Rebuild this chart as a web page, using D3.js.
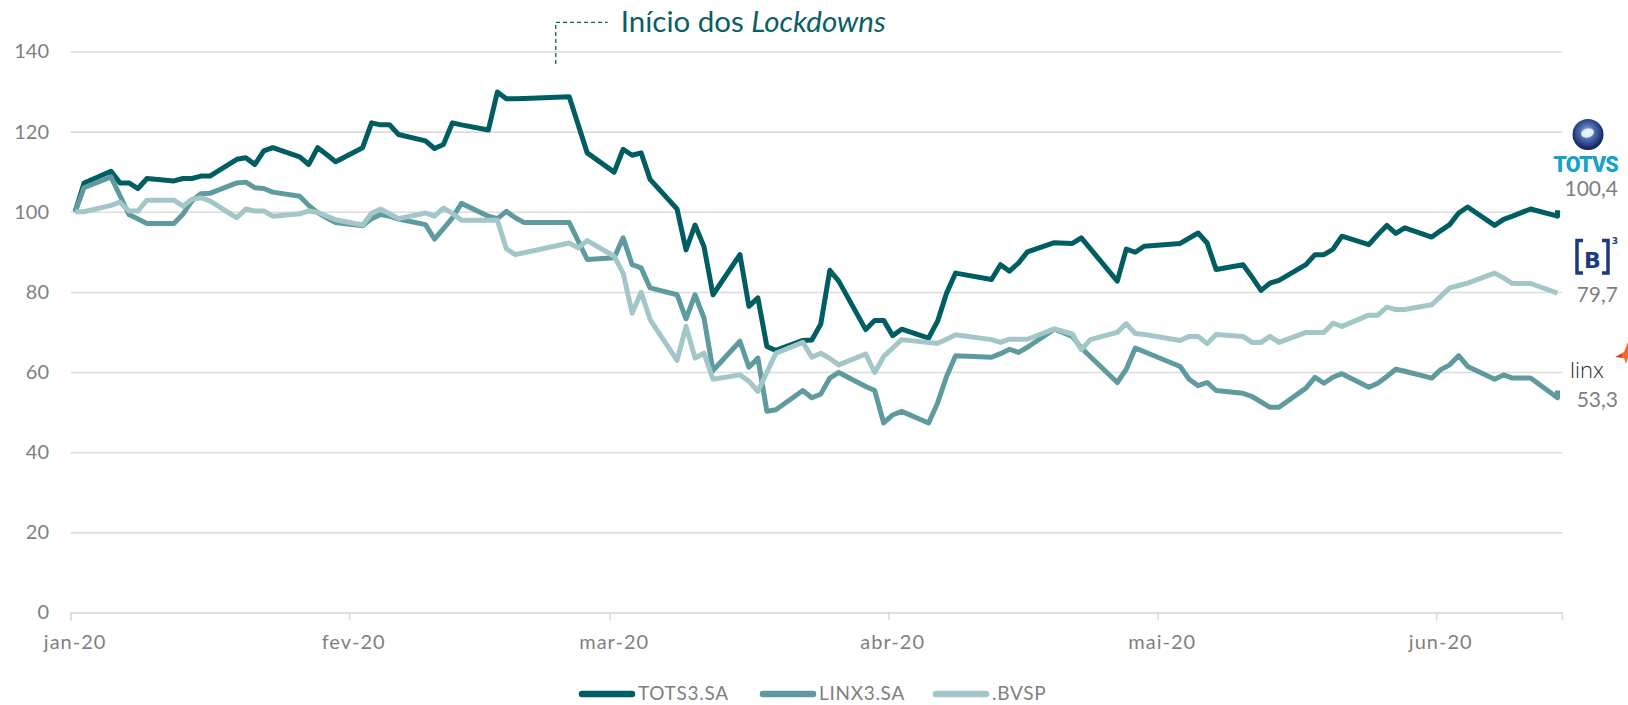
<!DOCTYPE html>
<html><head><meta charset="utf-8">
<script src="https://cdn.jsdelivr.net/npm/d3@7"></script>
<style>
html,body{margin:0;padding:0;background:#fff;}
svg{display:block;font-family:Lato,"Open Sans",sans-serif;}
</style></head><body>
<svg id="chart" width="1628" height="705"></svg>
<script>
// ---------- DATA ----------
const seriesNames = ["TOTS3.SA", "LINX3.SA", ".BVSP"];
const seriesColors = ["#005E62", "#5F9B9E", "#A3C6C8"];

const tots = [
["2020-01-02",100],["2020-01-03",107.2],["2020-01-06",110.1],["2020-01-07",107.2],["2020-01-08",107.2],
["2020-01-09",105.8],["2020-01-10",108.3],["2020-01-13",107.7],["2020-01-14",108.3],["2020-01-15",108.3],
["2020-01-16",108.9],["2020-01-17",108.9],["2020-01-20",113.1],["2020-01-21",113.5],["2020-01-22",111.8],
["2020-01-23",115.2],["2020-01-24",116.0],["2020-01-27",113.7],["2020-01-28",111.8],["2020-01-29",116.0],
["2020-01-30",114.3],["2020-01-31",112.5],["2020-02-03",116.0],["2020-02-04",122.2],["2020-02-05",121.7],
["2020-02-06",121.7],["2020-02-07",119.3],["2020-02-10",117.7],["2020-02-11",115.8],["2020-02-12",116.8],
["2020-02-13",122.2],["2020-02-14",121.7],["2020-02-17",120.4],["2020-02-18",129.9],["2020-02-19",128.2],
["2020-02-20",128.2],["2020-02-21",128.3],["2020-02-26",128.7],["2020-02-28",114.7],["2020-03-02",109.9],
["2020-03-03",115.6],["2020-03-04",114.1],["2020-03-05",114.7],["2020-03-06",108.1],["2020-03-09",100.7],
["2020-03-10",90.5],["2020-03-11",96.7],["2020-03-12",91.3],["2020-03-13",79.3],["2020-03-16",89.3],
["2020-03-17",76.4],["2020-03-18",78.5],["2020-03-19",66.4],["2020-03-20",65.4],["2020-03-23",67.9],
["2020-03-24",68.0],["2020-03-25",72.0],["2020-03-26",85.4],["2020-03-27",82.7],["2020-03-30",70.6],
["2020-03-31",72.9],["2020-04-01",72.9],["2020-04-02",69.1],["2020-04-03",70.7],["2020-04-06",68.5],
["2020-04-07",72.7],["2020-04-08",79.7],["2020-04-09",84.7],["2020-04-13",83.1],["2020-04-14",86.8],
["2020-04-15",85.2],["2020-04-16",87.2],["2020-04-17",90.0],["2020-04-20",92.3],["2020-04-22",92.1],
["2020-04-23",93.5],["2020-04-27",82.7],["2020-04-28",90.7],["2020-04-29",89.9],["2020-04-30",91.4],
["2020-05-04",92.1],["2020-05-06",94.7],["2020-05-07",92.2],["2020-05-08",85.6],["2020-05-11",86.8],
["2020-05-12",83.7],["2020-05-13",80.4],["2020-05-14",82.2],["2020-05-15",82.9],["2020-05-18",86.8],
["2020-05-19",89.3],["2020-05-20",89.3],["2020-05-21",90.6],["2020-05-22",93.9],["2020-05-25",91.8],
["2020-05-26",94.3],["2020-05-27",96.6],["2020-05-28",94.6],["2020-05-29",96.0],["2020-06-01",93.7],
["2020-06-02",95.3],["2020-06-03",96.8],["2020-06-04",99.7],["2020-06-05",101.2],["2020-06-08",96.6],
["2020-06-09",98.1],["2020-06-10",98.9],["2020-06-12",100.7],["2020-06-15",98.9],["2020-06-15",100.4]
];

const linx = [
["2020-01-02",100],["2020-01-03",106.0],["2020-01-06",108.7],["2020-01-07",104.0],["2020-01-08",99.3],
["2020-01-09",98.2],["2020-01-10",97.1],["2020-01-13",97.1],["2020-01-14",99.4],["2020-01-15",102.7],
["2020-01-16",104.5],["2020-01-17",104.6],["2020-01-20",107.2],["2020-01-21",107.4],["2020-01-22",106.0],
["2020-01-23",105.8],["2020-01-24",104.9],["2020-01-27",103.9],["2020-01-28",101.6],["2020-01-29",99.8],
["2020-01-30",98.5],["2020-01-31",97.3],["2020-02-03",96.5],["2020-02-04",98.3],["2020-02-05",99.3],
["2020-02-06",98.9],["2020-02-07",98.2],["2020-02-10",96.8],["2020-02-11",93.2],["2020-02-12",95.8],
["2020-02-13",98.5],["2020-02-14",102.1],["2020-02-17",98.9],["2020-02-18",98.3],["2020-02-19",100.1],
["2020-02-20",98.5],["2020-02-21",97.3],["2020-02-26",97.3],["2020-02-28",88.1],["2020-03-02",88.5],
["2020-03-03",93.5],["2020-03-04",86.8],["2020-03-05",86.0],["2020-03-06",81.0],["2020-03-09",79.3],
["2020-03-10",73.3],["2020-03-11",79.3],["2020-03-12",73.5],["2020-03-13",60.4],["2020-03-16",67.7],
["2020-03-17",61.2],["2020-03-18",63.5],["2020-03-19",50.2],["2020-03-20",50.6],["2020-03-23",55.4],
["2020-03-24",53.6],["2020-03-25",54.5],["2020-03-26",58.5],["2020-03-27",59.9],["2020-03-30",56.4],
["2020-03-31",55.4],["2020-04-01",47.3],["2020-04-02",49.3],["2020-04-03",50.2],["2020-04-06",47.3],
["2020-04-07",52.3],["2020-04-08",58.9],["2020-04-09",64.1],["2020-04-13",63.7],["2020-04-14",64.6],
["2020-04-15",65.7],["2020-04-16",64.9],["2020-04-17",66.2],["2020-04-20",70.7],["2020-04-22",68.9],
["2020-04-23",66.0],["2020-04-27",57.4],["2020-04-28",60.7],["2020-04-29",66.0],["2020-05-04",61.4],
["2020-05-05",58.2],["2020-05-06",56.6],["2020-05-07",57.4],["2020-05-08",55.4],["2020-05-11",54.7],
["2020-05-12",53.9],["2020-05-14",51.2],["2020-05-15",51.2],["2020-05-18",56.0],["2020-05-19",58.7],
["2020-05-20",57.2],["2020-05-21",58.7],["2020-05-22",59.6],["2020-05-25",56.2],["2020-05-26",57.2],
["2020-05-27",58.9],["2020-05-28",60.7],["2020-05-29",60.2],["2020-06-01",58.5],["2020-06-02",60.6],
["2020-06-03",61.8],["2020-06-04",64.1],["2020-06-05",61.4],["2020-06-08",58.2],["2020-06-09",59.3],
["2020-06-10",58.5],["2020-06-12",58.5],["2020-06-15",53.6],["2020-06-15",55.4]
];

const bvsp = [
["2020-01-02",100],["2020-01-03",100],["2020-01-06",101.6],["2020-01-07",102.4],["2020-01-08",100.2],
["2020-01-09",100.2],["2020-01-10",102.9],["2020-01-13",102.9],["2020-01-14",101.4],["2020-01-15",103.1],
["2020-01-16",103.5],["2020-01-17",102.7],["2020-01-20",98.5],["2020-01-21",100.7],["2020-01-22",100.2],
["2020-01-23",100.2],["2020-01-24",98.9],["2020-01-27",99.5],["2020-01-28",100.2],["2020-01-29",99.9],
["2020-01-31",98.0],["2020-02-03",96.7],["2020-02-04",99.6],["2020-02-05",100.7],["2020-02-07",98.3],
["2020-02-10",99.7],["2020-02-11",98.9],["2020-02-12",100.9],["2020-02-13",99.6],["2020-02-14",97.9],
["2020-02-17",97.9],["2020-02-18",97.9],["2020-02-19",90.8],["2020-02-20",89.3],["2020-02-26",92.2],
["2020-02-27",91.0],["2020-02-28",92.8],["2020-03-02",88.9],["2020-03-03",84.7],["2020-03-04",74.7],
["2020-03-05",79.9],["2020-03-06",73.1],["2020-03-09",62.9],["2020-03-10",71.4],["2020-03-11",63.5],
["2020-03-12",64.7],["2020-03-13",58.2],["2020-03-16",59.3],["2020-03-17",57.7],["2020-03-18",55.2],
["2020-03-19",60.0],["2020-03-20",64.7],["2020-03-23",67.4],["2020-03-24",63.7],["2020-03-25",64.7],
["2020-03-26",63.4],["2020-03-27",61.8],["2020-03-30",64.5],["2020-03-31",59.9],["2020-04-01",63.9],
["2020-04-02",66.0],["2020-04-03",68.1],["2020-04-06",67.4],["2020-04-07",67.2],["2020-04-08",68.2],
["2020-04-09",69.3],["2020-04-13",68.1],["2020-04-14",67.4],["2020-04-15",68.2],["2020-04-16",68.2],
["2020-04-17",68.2],["2020-04-20",70.8],["2020-04-22",69.5],["2020-04-23",65.6],["2020-04-24",68.1],
["2020-04-27",69.9],["2020-04-28",72.1],["2020-04-29",69.6],["2020-04-30",69.4],["2020-05-04",67.9],
["2020-05-05",68.9],["2020-05-06",68.9],["2020-05-07",67.1],["2020-05-08",69.4],["2020-05-11",68.9],
["2020-05-12",67.4],["2020-05-13",67.4],["2020-05-14",68.9],["2020-05-15",67.4],["2020-05-18",69.9],
["2020-05-19",69.9],["2020-05-20",69.9],["2020-05-21",72.2],["2020-05-22",71.4],["2020-05-25",74.2],
["2020-05-26",74.2],["2020-05-27",76.2],["2020-05-28",75.6],["2020-05-29",75.6],["2020-06-01",76.8],
["2020-06-02",78.9],["2020-06-03",81.0],["2020-06-04",81.6],["2020-06-05",82.2],["2020-06-08",84.7],
["2020-06-09",83.5],["2020-06-10",82.1],["2020-06-12",82.1],["2020-06-15",79.7]
];

const yTicks = [0, 20, 40, 60, 80, 100, 120, 140];
const monthTickDates = ["2020-01-02","2020-02-02","2020-03-02","2020-04-02","2020-05-02","2020-06-02"];
const monthLabels = ["jan-20","fev-20","mar-20","abr-20","mai-20","jun-20"];
const endLabels = ["100,4", "79,7", "53,3"];
const annotationDate = "2020-02-25";
const domainDates = ["2020-01-02", "2020-06-16"];

// ---------- CHART ----------
(function () {
const parse = d3.utcParse("%Y-%m-%d");
const svg = d3.select("#chart");
const pLeft = 70.6, pRight = 1562, pTop = 51.5, pBottom = 612.5;

const x = d3.scaleUtc().domain(domainDates.map(parse)).range([pLeft, pRight]);
const y = d3.scaleLinear().domain([0, 140]).range([pBottom, pTop]);
const xMid = d => x(d3.utcHour.offset(parse(d), 12));

// gridlines + y labels
const yAxis = d3.axisLeft(y).tickValues(yTicks).tickSize(-(pRight - pLeft)).tickPadding(pLeft - 49);
const gy = svg.append("g").attr("transform", `translate(${pLeft},0)`).call(yAxis);
gy.select(".domain").remove();
gy.selectAll(".tick line").attr("stroke", "#dcdcdc").attr("stroke-width", 1.6);
gy.selectAll(".tick text").attr("fill", "#7f7f7f").attr("font-size", 20)
  .attr("font-family", "Lato, 'Open Sans', sans-serif");

// x axis
const xAxis = d3.axisBottom(x).tickValues(monthTickDates.map(parse))
  .tickFormat((d, i) => monthLabels[i]).tickSize(8).tickPadding(14);
const gx = svg.append("g").attr("transform", `translate(0,${pBottom})`).call(xAxis);
gx.select(".domain").attr("stroke", "#dcdcdc").attr("stroke-width", 1.6);
gx.selectAll(".tick line").attr("stroke", "#dcdcdc").attr("stroke-width", 1.6);
gx.selectAll(".tick text").attr("fill", "#7f7f7f").attr("font-size", 20)
  .attr("letter-spacing", 1).attr("dx", 4)
  .attr("font-family", "Lato, 'Open Sans', sans-serif");

// lines
const line = d3.line().x(d => xMid(d[0])).y(d => y(d[1]));
[tots, linx, bvsp].forEach((s, i) => {
  svg.append("path").datum(s).attr("d", line)
    .attr("fill", "none").attr("stroke", seriesColors[i])
    .attr("stroke-width", 5).attr("stroke-linejoin", "round");
});

// annotation
const ax = x(parse(annotationDate));
svg.append("path")
  .attr("d", `M${ax},64 V22.3 H${ax + 52}`)
  .attr("fill", "none").attr("stroke", "#0B6066").attr("stroke-width", 1.3)
  .attr("stroke-dasharray", "4 3");
const at = svg.append("text").attr("x", ax + 65).attr("y", 32.3)
  .attr("font-size", 29.5).attr("fill", "#0B5E63").attr("font-family", "Lato, sans-serif");
at.append("tspan").text("Início dos ");
at.append("tspan").attr("font-style", "italic").text("Lockdowns");

// end value labels
const endY = [196, 301.7, 407.3];
endLabels.forEach((t, i) => {
  svg.append("text").attr("x", 1618).attr("y", endY[i]).attr("text-anchor", "end")
    .attr("font-size", 21).attr("fill", "#7f7f7f").text(t);
});

// logos
const defs = svg.append("defs");
const rg = defs.append("radialGradient").attr("id", "sph").attr("cx", "48%").attr("cy", "42%").attr("r", "58%");
rg.append("stop").attr("offset", "0%").attr("stop-color", "#b7cdee");
rg.append("stop").attr("offset", "40%").attr("stop-color", "#4d6fb5");
rg.append("stop").attr("offset", "100%").attr("stop-color", "#0e1a52");
svg.append("circle").attr("cx", 1588).attr("cy", 134.5).attr("r", 15.5).attr("fill", "url(#sph)");
svg.append("ellipse").attr("cx", 1587.5).attr("cy", 133).attr("rx", 6.5).attr("ry", 4.5)
  .attr("fill", "#f2f6fc").attr("opacity", 0.9).attr("transform", "rotate(-15,1587.5,133)");
svg.append("text").attr("x", 1618).attr("y", 171.7).attr("text-anchor", "end")
  .attr("font-family", "Roboto, sans-serif").attr("font-weight", 900).attr("font-size", 21.5)
  .attr("letter-spacing", -0.8).attr("fill", "#18a2c8").text("TOTVS");

// B3
const navy = "#1d3a80";
svg.append("path").attr("d", "M1583,240.5 H1577 V273 H1583").attr("fill", "none")
  .attr("stroke", navy).attr("stroke-width", 3.5);
svg.append("path").attr("d", "M1602,240.5 H1608 V273 H1602").attr("fill", "none")
  .attr("stroke", navy).attr("stroke-width", 3.5);
svg.append("text").attr("x", 1592.5).attr("y", 267.5).attr("text-anchor", "middle")
  .attr("font-family", "'DejaVu Sans', sans-serif").attr("font-weight", 700).attr("font-size", 22)
  .attr("fill", navy).text("B");
svg.append("text").attr("x", 1615).attr("y", 244).attr("text-anchor", "middle")
  .attr("font-family", "'DejaVu Sans', sans-serif").attr("font-weight", 700).attr("font-size", 9)
  .attr("fill", navy).text("3");

// Linx
svg.append("text").attr("x", 1570).attr("y", 378).attr("font-family", "'Open Sans', sans-serif")
  .attr("font-weight", 300).attr("font-size", 22).attr("fill", "#2b2b2b").text("linx");
svg.append("path").attr("d", "M1628,342 L1624,352 L1615,357 L1624,358 L1626,364 L1628,357 Z")
  .attr("fill", "#f26a21");
svg.append("path").attr("d", "M1622,354 L1616,357 L1622,357.5 Z").attr("fill", "#e0302a");

// legend
const legX = [579, 760, 933];
seriesNames.forEach((n, i) => {
  svg.append("line").attr("x1", legX[i] + 3).attr("x2", legX[i] + 53).attr("y1", 694).attr("y2", 694)
    .attr("stroke", seriesColors[i]).attr("stroke-width", 6.5).attr("stroke-linecap", "round");
  svg.append("text").attr("x", legX[i] + 59).attr("y", 700).attr("font-size", 19)
    .attr("fill", "#7f7f7f").attr("letter-spacing", 0.7).text(n);
});
})();
</script>
</body></html>
